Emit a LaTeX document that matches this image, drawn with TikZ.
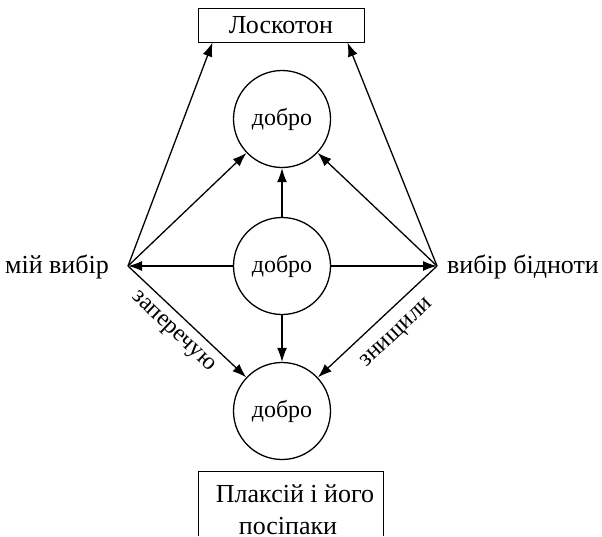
\documentclass[tikz,border=0pt]{standalone}
\usepackage{fontspec}
\setmainfont{Liberation Serif}
\usetikzlibrary{arrows.meta,calc}
\begin{document}
\begin{tikzpicture}[x=1pt,y=-1pt,
  every node/.style={font=\fontsize{26}{32}\selectfont},
  circ/.style={circle,draw,line width=1.3pt,minimum size=97pt,inner sep=0pt,font=\fontsize{24}{30}\selectfont},
  boxn/.style={draw,line width=1pt,minimum width=166pt,minimum height=34pt,inner sep=0pt},
  arr/.style={line width=1.3pt,-{Latex[length=14pt,width=10pt]}},
  lbl/.style={font=\fontsize{24}{28}\selectfont,sloped,inner sep=4pt}]
\useasboundingbox (0,0) rectangle (602,536);
% boxes
\node[boxn] (losk) at (281,25) {Лоскотон};
\node[anchor=base,inner sep=0pt] (plaks1) at (295,502) {Плаксій і його};
\node[anchor=base,inner sep=0pt] (plaks2) at (288,534) {посіпаки};
\draw[line width=1pt] (198,536) |- (383,471) -- (383,536);
% circles
\node[circ] (top) at (282,119) {добро};
\node[circ] (mid) at (282,266) {добро};
\node[circ] (bot) at (282,411) {добро};
% side points
\coordinate (L) at (128,266);
\coordinate (R) at (437,266);
\node[anchor=base east,inner sep=0pt] (mv) at (109,273) {мій вибір};
\node[anchor=base west,inner sep=0pt] (vb) at (447,273) {вибір бідноти};
% arrows
\draw[arr] (L) -- ($(losk.south west)+(15,0)$);
\draw[arr] (R) -- ($(losk.south east)+(-17,0)$);
\draw[arr] (L) -- (top);
\draw[arr] (R) -- (top);
\draw[arr] (mid) -- (top);
\draw[arr] (mid) -- (L);
\draw[arr] (mid) -- (R);
\draw[arr] (mid) -- (bot);
\draw[arr] (L) -- node[lbl,below=5pt,pos=0.48] (zap) {заперечую} (bot);
\draw[arr] (R) -- node[lbl,below=10pt,pos=0.46] (zn) {знищили} (bot);
\end{tikzpicture}
\end{document}
